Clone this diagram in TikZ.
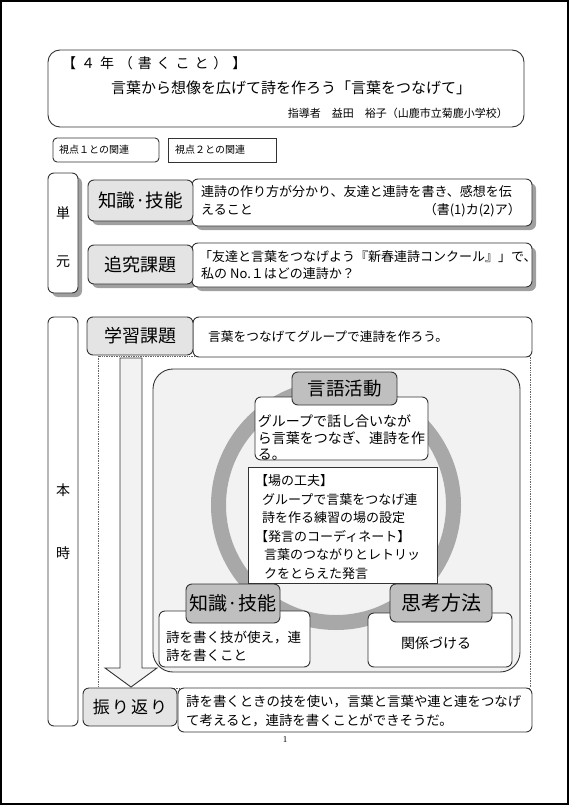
\documentclass[tikz,border=0pt]{standalone}
\usepackage{fontspec}
\newfontfamily\jp{Noto Sans CJK JP}
\newfontfamily\ser{Liberation Serif}
\usetikzlibrary{positioning}
\definecolor{edge}{HTML}{333333}
\definecolor{hdrlight}{HTML}{E4E4E4}
\definecolor{hdrdark}{HTML}{BFBFBF}
\definecolor{panelbg}{HTML}{F2F2F2}
\definecolor{ringc}{HTML}{A8A8A8}
\definecolor{shadowc}{HTML}{A0A0A0}
\tikzset{
  box/.style={draw=edge, line width=0.9pt, rounded corners=6pt, inner sep=0pt, fill=white},
  sqbox/.style={draw=edge, line width=0.9pt, inner sep=0pt, fill=white},
  hlight/.style={box, fill=hdrlight},
  hdark/.style={box, fill=hdrdark},
  shad/.style={fill=shadowc, draw=none, rounded corners=6pt, inner sep=0pt},
  txt/.style={inner sep=0pt, font=\jp},
}
\newcommand{\fs}[2]{\fontsize{#1}{#2}\selectfont}
\begin{document}
\begin{tikzpicture}[x=1pt,y=-1pt]
\useasboundingbox (0,0) rectangle (569,805);
\draw[line width=2pt] (1,1) rectangle (568,804);

% title
\node[box, rounded corners=12pt, minimum width=476pt, minimum height=77pt] (title) at (286,88.5) {};
\node[txt, anchor=west, font=\jp\fs{14}{16}\addfontfeature{LetterSpace=35}] (grade) at (62,63) {【４年（書くこと）】};
\node[txt, font=\jp\fs{15}{17}] (maintitle) at (291,88) {言葉から想像を広げて詩を作ろう「言葉をつなげて」};
\node[txt, anchor=east, font=\jp\fs{11}{13}] (author) at (508,113) {指導者\hspace{11pt}益田\hspace{11pt}裕子（山鹿市立菊鹿小学校）};

% viewpoints
\node[box, rounded corners=4pt, minimum width=106pt, minimum height=24pt] (v1) at (106,150) {};
\node[txt, anchor=west, font=\jp\fs{10}{12}] (v1t) at (59,150) {視点１との関連};
\node[sqbox, minimum width=108pt, minimum height=24pt] (v2) at (222,150) {};
\node[txt, anchor=west, font=\jp\fs{10}{12}] (v2t) at (175,150) {視点２との関連};

% tangen
\node[shad, minimum width=30pt, minimum height=120pt] (tangens) at (67,237) {};
\node[box, minimum width=30pt, minimum height=120pt] (tangen) at (63,233) {};
\node[txt, font=\jp\fs{14}{16}] (tan) at (63,213) {単};
\node[txt, font=\jp\fs{14}{16}] (gen) at (63,262) {元};

\node[shad, minimum width=105pt, minimum height=41pt] (kh1s) at (144.5,204.5) {};
\node[shad, minimum width=340pt, minimum height=47pt] (kt1s) at (366,206.5) {};
\node[shad, minimum width=105pt, minimum height=39pt] (tks) at (144.5,268.5) {};
\node[shad, minimum width=340pt, minimum height=44pt] (tts) at (366,269) {};

\node[box, minimum width=340pt, minimum height=47pt] (kt1) at (362,202.5) {};
\node[hlight, minimum width=105pt, minimum height=41pt, font=\jp\fs{18.5}{20}] (kh1) at (140.5,200.5) {知識·技能};
\node[txt, anchor=west, font=\jp\fs{13}{15}] (kt1a) at (201,192) {連詩の作り方が分かり、友達と連詩を書き、感想を伝};
\node[txt, anchor=west, font=\jp\fs{13}{15}] (kt1b) at (201,210) {えること};
\node[txt, anchor=east, font=\jp\fs{13}{15}] (kt1c) at (521,210) {（書(1)カ(2)ア）};

\node[box, minimum width=340pt, minimum height=44pt] (tt) at (362,265) {};
\node[hlight, minimum width=105pt, minimum height=39pt, font=\jp\fs{18}{20}] (tk) at (140.5,264.5) {追究課題};
\node[txt, anchor=west, font=\jp\fs{13}{15}] (tta) at (199,257) {「友達と言葉をつなげよう『新春連詩コンクール』」で、};
\node[txt, anchor=west, font=\jp\fs{13}{15}] (ttb) at (201,274) {私の No.１はどの連詩か？};

% honji
\node[box, minimum width=30pt, minimum height=409pt] (honji) at (63,521.5) {};
\node[txt, font=\jp\fs{14}{16}] (hon) at (63,490) {本};
\node[txt, font=\jp\fs{14}{16}] (ji) at (63,553) {時};

% dotted frame
\draw[densely dotted, draw=black!60, line width=0.7pt] (98,356) rectangle (530,688);

\node[box, minimum width=339pt, minimum height=40pt] (gt) at (362.5,337) {};
\node[hlight, minimum width=106pt, minimum height=38pt, font=\jp\fs{18}{20}] (gk) at (140,336) {学習課題};
\node[txt, anchor=west, font=\jp\fs{12.7}{15}] (gtt) at (208,337) {言葉をつなげてグループで連詩を作ろう。};

% down arrow
\draw[draw=edge, line width=0.9pt, fill=panelbg] (120,358) -- (142,358) -- (142,668) -- (157,668) -- (131,687) -- (105,668) -- (120,668) -- cycle;

% panel
\node[box, rounded corners=20pt, fill=panelbg, minimum width=367pt, minimum height=303pt] (panel) at (336.5,520.5) {};
\draw[ringc, line width=15pt] (336,505) circle (117.5pt);

% gengo katsudo
\node[box, minimum width=173pt, minimum height=63pt] (ggt) at (341.5,428.5) {};
\node[hdark, minimum width=105pt, minimum height=33pt, font=\jp\fs{18.5}{20}] (gg) at (344.5,388.5) {言語活動};
\node[txt, align=left, font=\jp\fs{14}{16.5}] (ggtt) at (341.5,438) {グループで話し合いなが\\ら言葉をつなぎ、連詩を作\\る。};

% center
\node[sqbox, minimum width=189pt, minimum height=116pt] (center) at (342.5,525) {};
\node[txt, anchor=west, align=left, font=\jp\fs{13}{18.6}] (centert) at (255,527) {【場の工夫】\\\hspace{7pt}グループで言葉をつなげ連\\\hspace{7pt}詩を作る練習の場の設定\\【発言のコーディネート】\\\hspace{9pt}言葉のつながりとレトリッ\\\hspace{9pt}クをとらえた発言};

% chishiki lower
\node[box, minimum width=151pt, minimum height=56pt] (kh2t) at (234.5,639) {};
\node[hdark, minimum width=94pt, minimum height=39pt, font=\jp\fs{19}{21}] (kh2) at (233,603.5) {知識·技能};
\node[txt, anchor=west, align=left, font=\jp\fs{13.5}{18}] (kh2tt) at (166,646) {詩を書く技が使え，連\\詩を書くこと};

% shiko houhou
\node[box, minimum width=144pt, minimum height=54pt] (sht) at (440,640) {};
\node[hdark, minimum width=102pt, minimum height=38pt, font=\jp\fs{20}{22}] (sh) at (441,603) {思考方法};
\node[txt, font=\jp\fs{14}{16}] (shtt) at (436,643) {関係づける};

% furikaeri
\node[box, minimum width=354pt, minimum height=44pt] (ft) at (355,710) {};
\node[hlight, minimum width=94pt, minimum height=38pt, font=\jp\fs{17}{20}\addfontfeature{LetterSpace=12}] (fk) at (130,707) {振り返り};
\node[txt, anchor=west, align=left, font=\jp\fs{13.4}{19}] (ftt) at (186,711.5) {詩を書くときの技を使い，言葉と言葉や連と連をつなげ\\て考えると，連詩を書くことができそうだ。};

\node[inner sep=0pt, font=\ser\fs{9}{10}] (pagenum) at (285,740) {1};
\end{tikzpicture}
\end{document}
